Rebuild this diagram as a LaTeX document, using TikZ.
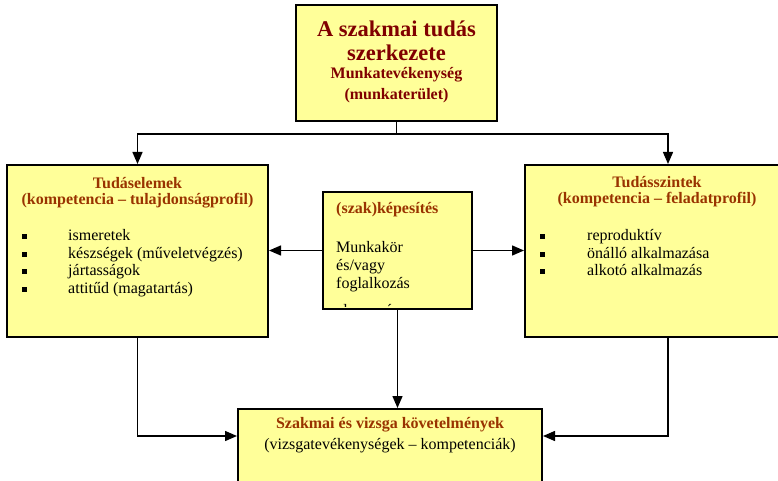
\documentclass[tikz,border=0pt]{standalone}
\usepackage{fontspec}
\setmainfont{Liberation Serif}
\usetikzlibrary{arrows.meta,calc}
\definecolor{boxfill}{HTML}{FFFF99}
\definecolor{titlered}{HTML}{800000}
\definecolor{headred}{HTML}{993300}
\begin{document}
\begin{tikzpicture}[x=1pt,y=-1pt,
  box/.style={draw=black, line width=2pt, fill=boxfill, inner sep=0pt},
  conn/.style={line width=1.4pt},
  arr/.style={conn,-{Triangle[length=12pt,width=10pt]}},
  titletxt/.style={font=\fontsize{22.5}{26}\selectfont\bfseries, text=titlered, inner sep=0pt},
  subtxt/.style={font=\fontsize{16}{18}\selectfont\bfseries, text=titlered, inner sep=0pt},
  headtxt/.style={font=\fontsize{16}{18}\selectfont\bfseries, text=headred, inner sep=0pt},
  bodytxt/.style={font=\fontsize{16}{18}\selectfont, text=black, inner sep=0pt, anchor=mid west},
  bul/.style={fill=black, minimum size=5pt, inner sep=0pt}]
\useasboundingbox (0,0) rectangle (778,481);
\clip (0,0) rectangle (778,481);

% boxes
\node[box, minimum width=201pt, minimum height=116pt] (top) at (396.5,63) {};
\node[box, minimum width=261pt, minimum height=172pt] (left) at (137.5,251) {};
\node[box, draw=none, minimum width=147pt, minimum height=115pt] (mid) at (397.5,250.5) {};
\node[box, minimum width=286pt, minimum height=172pt] (right) at (668,251) {};
\node[box, minimum width=304pt, minimum height=91pt] (bot) at (390,454.5) {};

% top text
\node[titletxt] (t1) at (396.5,29) {A szakmai tudás};
\node[titletxt] (t2) at (396.5,53) {szerkezete};
\node[subtxt] (t3) at (396.5,75) {Munkatevékenység};
\node[subtxt] (t4) at (396.5,96) {(munkaterület)};

% left text
\node[headtxt] (l1) at (137.5,183) {Tudáselemek};
\node[headtxt] (l2) at (137.5,201) {(kompetencia – tulajdonságprofil)};
\node[bul] (lb1) at (24,236.5) {};
\node[bul] (lb2) at (24,254.5) {};
\node[bul] (lb3) at (24,271.5) {};
\node[bul] (lb4) at (24,289.5) {};
\node[bodytxt] (li1) at (68,238) {ismeretek};
\node[bodytxt] (li2) at (68,256) {készségek (műveletvégzés)};
\node[bodytxt] (li3) at (68,273) {jártasságok};
\node[bodytxt] (li4) at (68,291) {attitűd (magatartás)};

% right text
\node[headtxt] (r1) at (657,182) {Tudásszintek};
\node[headtxt] (r2) at (657,200) {(kompetencia – feladatprofil)};
\node[bul] (rb1) at (542,236.5) {};
\node[bul] (rb2) at (542,254.5) {};
\node[bul] (rb3) at (542,271.5) {};
\node[bodytxt] (ri1) at (587,238) {reproduktív};
\node[bodytxt] (ri2) at (587,256) {önálló alkalmazása};
\node[bodytxt] (ri3) at (587,273) {alkotó alkalmazás};

% middle text (clipped)
\begin{scope}
  \clip ($(mid.north west)+(1,1)$) rectangle ($(mid.south east)+(-1,-3)$);
  \node[headtxt, anchor=mid west] (m1) at (336,211) {(szak)képesítés};
  \node[bodytxt] (m2) at (336,250) {Munkakör};
  \node[bodytxt] (m3) at (336,268) {és/vagy};
  \node[bodytxt] (m4) at (336,286) {foglalkozás};
  \node[bodytxt] (m5) at (336,313) {elnevezése};
\end{scope}
\draw[line width=2pt] (mid.north west) rectangle (mid.south east);

% bottom text
\node[headtxt] (b1) at (390,425) {Szakmai és vizsga követelmények};
\node[font=\fontsize{16}{18}\selectfont, inner sep=0pt] (b2) at (390,446) {(vizsgatevékenységek – kompetenciák)};

% connectors
\coordinate (jt) at ($(top.south)+(0,12)$);
\draw[conn] (top.south) -- (jt);
\draw[arr] (jt) -| (left.north);
\draw[arr] (jt) -| (right.north);
\draw[arr] (mid.west) -- (left.east |- mid.west);
\draw[arr] (mid.east) -- (right.west |- mid.east);
\draw[arr] (mid.south) -- (mid.south |- bot.north);
\coordinate (bl) at ($(bot.north west)+(0,28)$);
\coordinate (br) at ($(bot.north east)+(0,28)$);
\draw[arr] (left.south) |- (bl);
\draw[arr] (right.south) |- (br);
\end{tikzpicture}
\end{document}
